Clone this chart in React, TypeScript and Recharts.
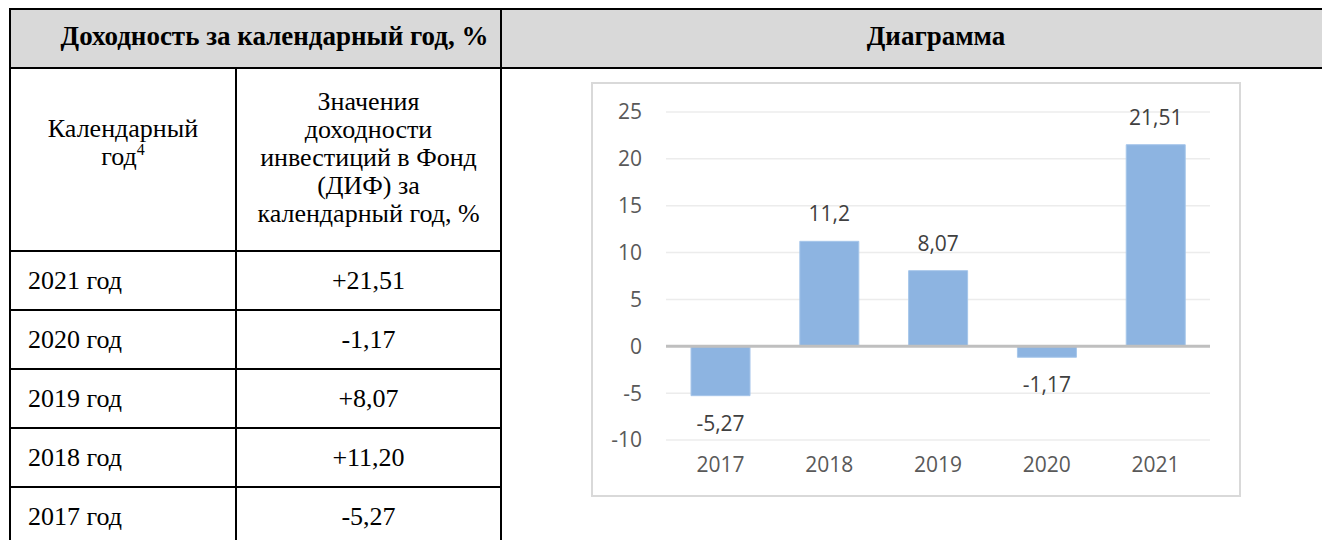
import React from 'react'
import {
  BarChart,
  Bar,
  XAxis,
  YAxis,
  CartesianGrid,
  ReferenceLine,
  LabelList,
} from 'recharts'

const YEARS = ['2017', '2018', '2019', '2020', '2021']
const RETURNS = [-5.27, 11.2, 8.07, -1.17, 21.51]
const Y_TICKS = [-10, -5, 0, 5, 10, 15, 20, 25]

const chartData = YEARS.map((year, i) => ({ year, value: RETURNS[i] }))
// table lists newest year first
const tableRows = [...chartData].reverse()

function tableValue(v: number): string {
  const s = v.toFixed(2).replace('.', ',')
  return v > 0 ? '+' + s : s
}

function labelValue(v: number): string {
  return String(v).replace('.', ',')
}

const AXIS_FONT = '"Open Sans", sans-serif'

// eslint-disable-next-line @typescript-eslint/no-explicit-any
function ValueLabel(props: any) {
  const { x, y, width, height, value } = props
  const top = Math.min(y, y + height)
  const bottom = Math.max(y, y + height)
  const neg = Number(value) < 0
  return (
    <text
      x={x + width / 2}
      y={neg ? bottom + 35 : top - 20}
      textAnchor="middle"
      fill="#404040"
      fontSize={21}
      fontFamily={AXIS_FONT}
    >
      {labelValue(Number(value))}
    </text>
  )
}

const cell: React.CSSProperties = {
  border: '2px solid #000',
  padding: 0,
}

const head: React.CSSProperties = {
  ...cell,
  background: '#d9d9d9',
  fontWeight: 700,
  fontSize: 27,
  textAlign: 'center',
}

function ReturnsChart() {
  return (
    <div
      style={{
        position: 'absolute',
        left: 591,
        top: 82,
        width: 650,
        height: 415,
        border: '2px solid #d9d9d9',
        boxSizing: 'border-box',
        background: '#fff',
      }}
    >
      <BarChart
        width={646}
        height={411}
        data={chartData}
        margin={{ top: 28, right: 29, left: 0, bottom: 0 }}
        barCategoryGap="23%"
      >
        <CartesianGrid vertical={false} stroke="#ececec" strokeWidth={1.5} />
        <XAxis
          dataKey="year"
          axisLine={false}
          tickLine={false}
          height={55}
          tickMargin={11}
          tick={{ fill: '#595959', fontSize: 21, fontFamily: AXIS_FONT }}
        />
        <YAxis
          domain={[-10, 25]}
          ticks={Y_TICKS}
          axisLine={false}
          tickLine={false}
          width={73}
          tickMargin={18}
          tick={{ fill: '#595959', fontSize: 21, fontFamily: AXIS_FONT }}
        />
        <Bar dataKey="value" fill="#8db4e1" stroke="#a6c6ea" strokeWidth={1} isAnimationActive={false}>
          <LabelList dataKey="value" content={ValueLabel} />
        </Bar>
        <ReferenceLine y={0} stroke="#bfbfbf" strokeWidth={3} />
      </BarChart>
    </div>
  )
}

export default function App() {
  return (
    <div
      style={{
        position: 'fixed',
        left: 0,
        top: 0,
        width: 1322,
        height: 540,
        overflow: 'hidden',
        background: '#fff',
      }}
    >
      <table
        style={{
          position: 'absolute',
          left: 9,
          top: 8,
          borderCollapse: 'collapse',
          tableLayout: 'fixed',
          width: 1361,
          fontFamily: '"Liberation Serif", "Times New Roman", serif',
          fontSize: 26,
          lineHeight: '28px',
          color: '#000',
        }}
      >
        <colgroup>
          <col style={{ width: 226 }} />
          <col style={{ width: 265 }} />
          <col style={{ width: 870 }} />
        </colgroup>
        <tbody>
          <tr style={{ height: 59 }}>
            <th colSpan={2} style={{ ...head, paddingLeft: 38, paddingBottom: 6 }}>
              Доходность за календарный год, %
            </th>
            <th style={{ ...head, paddingBottom: 6 }}>Диаграмма</th>
          </tr>
          <tr style={{ height: 183 }}>
            <td style={{ ...cell, textAlign: 'center', verticalAlign: 'top', paddingTop: 46 }}>
              Календарный
              <br />
              год<sup style={{ fontSize: 16, lineHeight: 0, verticalAlign: 'super' }}>4</sup>
            </td>
            <td style={{ ...cell, textAlign: 'center', paddingBottom: 4 }}>
              Значения
              <br />
              доходности
              <br />
              инвестиций в Фонд
              <br />
              (ДИФ) за
              <br />
              календарный год, %
            </td>
            <td rowSpan={6} style={cell} />
          </tr>
          {tableRows.map((r) => (
            <tr key={r.year} style={{ height: 59 }}>
              <td style={{ ...cell, paddingLeft: 17 }}>{r.year} год</td>
              <td style={{ ...cell, textAlign: 'center' }}>{tableValue(r.value)}</td>
            </tr>
          ))}
        </tbody>
      </table>
      <ReturnsChart />
    </div>
  )
}
